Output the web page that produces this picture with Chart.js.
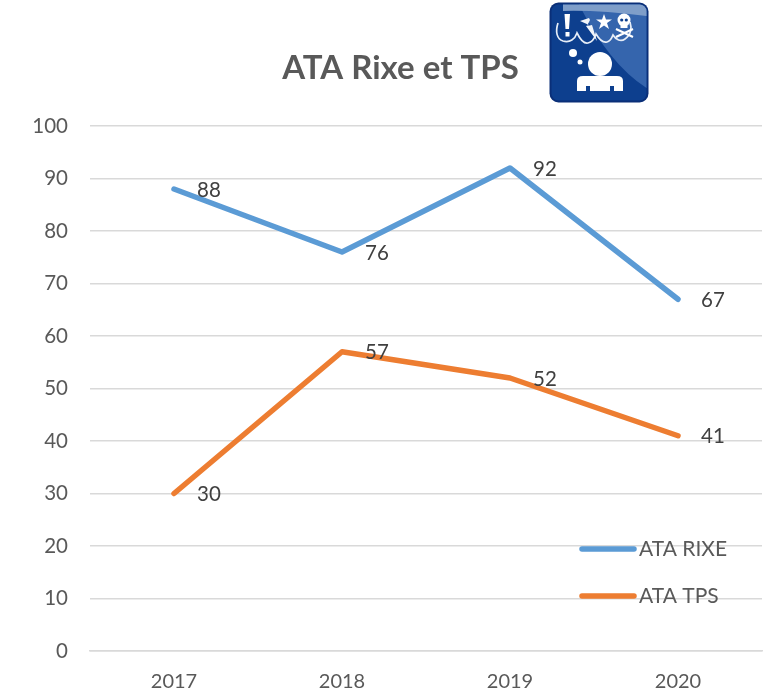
<!DOCTYPE html>
<html><head><meta charset="utf-8">
<style>
html,body{margin:0;padding:0;background:#fff}
#wrap{position:relative;width:768px;height:700px}
#icon{position:absolute;left:549px;top:2px;width:100px;height:101px}
</style>
<script src="https://cdn.jsdelivr.net/npm/chart.js@4"></script>
</head><body>
<div id="wrap"><canvas id="c" width="768" height="700"></canvas>
<svg id="icon" viewBox="0 0 100 101">
<rect x="0.5" y="0.5" width="99" height="100" rx="9" fill="#0a2f78"/>
<rect x="2.500" y="2.500" width="95" height="96" rx="7" fill="#0d3f8e"/>
<path d="M30 2.500H90a7 7 0 0 1 7.500 7V86Q60 62 30 2.500Z" fill="#3565ad"/>
<path d="M14 2.500H90a7 7 0 0 1 7.500 7V14Q50 8 14 9Z" fill="#7f9ec9"/>
<path d="M9 21c-3 9-1 16 5 18 7 2 12-2 14-8 3 6 7 11 11 10 5-1 7-6 8-9 3 5 7 9 11 8 4-1 5-5 6-7 3 5 8 7 12 4 6-4 7-11 5-17" fill="none" stroke="#e6edf7" stroke-width="1.700"/>
<path d="M15.500 12h5.500l-1 15h-3.500zM16.500 30h4v4.500h-4z" fill="#fff"/>
<path d="M31 19l9-3 1 2-3 6 5-1 5 16-11-15 3-1z" fill="#f2f5fa"/>
<path d="M55 12l2 5.500 6 0-5 3.500 2 6-5-3.500-5 3.500 2-6-5-3.500 6 0z" fill="#fff"/>
<ellipse cx="75" cy="18" rx="6.500" ry="6.500" fill="#fff"/><rect x="71.500" y="22" width="7" height="4" fill="#fff"/>
<circle cx="72.700" cy="18" r="1.600" fill="#0d3f8e"/><circle cx="77.300" cy="18" r="1.600" fill="#0d3f8e"/>
<path d="M67 27l17 8M84 27l-17 8" stroke="#fff" stroke-width="2.200"/>
<circle cx="24" cy="51" r="4" fill="#fff"/><circle cx="31" cy="60" r="2.500" fill="#fff"/>
<circle cx="51" cy="62" r="12" fill="#fff"/>
<path d="M28 89V79q0-5 6-5h34q6 0 6 5v10h-9v-5h-4v5H41v-5h-4v5z" fill="#fff"/>
</svg></div>
<script>
const categories = ['2017','2018','2019','2020'];
const ataRixe = [88,76,92,67];
const ataTps = [30,57,52,41];
const yTicks = [0,10,20,30,40,50,60,70,80,90,100];
const titleText = 'ATA Rixe et TPS';
const FONT = 'Lato, Carlito, sans-serif';

const overlay = {
  id:'overlay',
  afterDatasetsDraw(chart){
    const {ctx} = chart;
    ctx.save();
    ctx.font = 'bold 33px '+FONT;
    ctx.fillStyle = '#595959';
    ctx.textAlign = 'center'; ctx.textBaseline = 'middle';
    ctx.fillText(titleText, 400.5, 68);
    ctx.font = '20.5px '+FONT;
    ctx.fillStyle = '#404040';
    ctx.textAlign = 'left';
    chart.data.datasets.forEach((ds,i)=>{
      chart.getDatasetMeta(i).data.forEach((pt,j)=>{
        ctx.fillText(String(ds.data[j]), pt.x+23, pt.y+1);
      });
    });
    const lx0 = 582, lx1 = 634, ly = [549,596];
    ctx.font = '21px '+FONT;
    chart.data.datasets.forEach((ds,i)=>{
      ctx.strokeStyle = ds.borderColor; ctx.lineWidth = 5.5; ctx.lineCap = 'round';
      ctx.beginPath(); ctx.moveTo(lx0,ly[i]); ctx.lineTo(lx1,ly[i]); ctx.stroke();
      ctx.fillStyle = '#595959';
      ctx.fillText(ds.label, 639, ly[i]);
    });
    ctx.restore();
  }
};

new Chart(document.getElementById('c'),{
  type:'line',
  data:{labels:categories,datasets:[
    {label:'ATA RIXE',data:ataRixe,borderColor:'#5b9bd5',backgroundColor:'#5b9bd5',borderWidth:5.5,pointRadius:0,tension:0,borderCapStyle:'round',borderJoinStyle:'round',fill:false},
    {label:'ATA TPS',data:ataTps,borderColor:'#ed7d31',backgroundColor:'#ed7d31',borderWidth:5.5,pointRadius:0,tension:0,borderCapStyle:'round',borderJoinStyle:'round',fill:false}
  ]},
  options:{
    responsive:false,animation:false,devicePixelRatio:1,
    layout:{padding:{top:126,left:0,right:6,bottom:0}},
    plugins:{legend:{display:false},title:{display:false},tooltip:{enabled:false}},
    scales:{
      x:{
        offset:true,
        grid:{display:false,drawTicks:false},
        border:{display:true,color:'#d9d9d9',width:1.5},
        ticks:{color:'#595959',font:{family:FONT,size:20},padding:19,maxRotation:0},
        afterFit(s){s.height=49;}
      },
      y:{
        min:0,max:100,
        afterBuildTicks(s){s.ticks=yTicks.map(v=>({value:v}));},
        grid:{color:'#d9d9d9',lineWidth:1.5,drawTicks:false},
        border:{display:false},
        ticks:{color:'#595959',font:{family:FONT,size:20.5},padding:22},
        afterFit(s){s.width=90;}
      }
    }
  },
  plugins:[overlay]
});
</script>
</body></html>
